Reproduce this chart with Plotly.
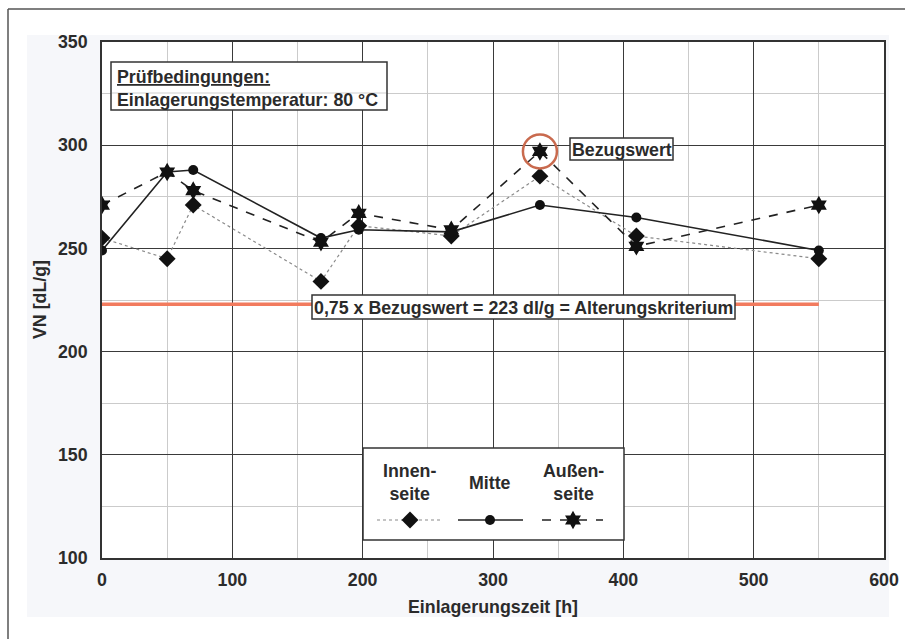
import plotly.graph_objects as go

# ---------------- data ----------------
zeit = [0, 50, 70, 168, 197, 268, 336, 410, 550]
innenseite = [255, 245, 271, 234, 261, 256, 285, 256, 245]
mitte = [249, 287, 288, 255, 259, 258, 271, 265, 249]
aussenseite = [271, 287, 278, 253, 267, 259, 297, 251, 271]
kriterium_zeit = [0, 550]
kriterium_wert = 223
bezug_index = 6

x_range = [0, 600]
y_range = [100, 350]

# ---------------- layout constants (pixels) ----------------
W, H = 905, 639
PL, PR, PT, PB = 102, 884, 42, 558
FONT = "Liberation Sans, Arial, sans-serif"
TXT = "#2b2b2b"
FS = 17.8


def fx(px):
    return px / W


def fy(py):
    return 1 - py / H


fig = go.Figure()

# criterion line
fig.add_trace(go.Scatter(x=kriterium_zeit, y=[kriterium_wert] * len(kriterium_zeit), mode="lines",
                         line=dict(color="#f27b5e", width=3.5), hoverinfo="skip"))
# series
fig.add_trace(go.Scatter(x=zeit, y=innenseite, mode="lines+markers", name="Innenseite",
                         line=dict(color="#8a8a8a", width=1.2, dash="dot"),
                         marker=dict(symbol="diamond", size=13, color="#111", line=dict(width=0))))
fig.add_trace(go.Scatter(x=zeit, y=mitte, mode="lines+markers", name="Mitte",
                         line=dict(color="#222", width=1.6),
                         marker=dict(symbol="circle", size=10, color="#111", line=dict(width=0))))
fig.add_trace(go.Scatter(x=zeit, y=aussenseite, mode="lines+markers", name="Außenseite",
                         line=dict(color="#222", width=1.6, dash="dash"),
                         marker=dict(symbol="hexagram", size=14, color="#111", line=dict(width=0))))

# legend keys (pixel overlay axes)
keys = [
    (377, 410, 442, dict(color="#8a8a8a", width=1.2, dash="dot"), "diamond", 13),
    (458, 490, 523, dict(color="#222", width=1.6), "circle", 10),
    (542, 573, 603, dict(color="#222", width=1.6, dash="dash"), "hexagram", 14),
]
for x0, xm, x1, ln, sym, sz in keys:
    fig.add_trace(go.Scatter(x=[x0, x1], y=[520, 520], xaxis="x2", yaxis="y2",
                             mode="lines", line=ln, hoverinfo="skip"))
    fig.add_trace(go.Scatter(x=[xm], y=[520], xaxis="x2", yaxis="y2", mode="markers",
                             marker=dict(symbol=sym, size=sz, color="#111", opacity=1,
                                         line=dict(width=0)),
                             hoverinfo="skip"))

shapes = []
# outer shaded area & frame (paper refs -> lowest layer)
shapes.append(dict(type="rect", xref="paper", yref="paper", x0=fx(27), x1=fx(889), y0=fy(617), y1=fy(35),
                   fillcolor="#f6f7fa", line=dict(width=0), layer="below"))
shapes.append(dict(type="rect", xref="paper", yref="paper", x0=fx(PL), x1=fx(PR), y0=fy(PB), y1=fy(PT),
                   fillcolor="#ffffff", line=dict(width=0), layer="below"))
shapes.append(dict(type="line", xref="paper", yref="paper", x0=fx(8), x1=fx(W + 5), y0=fy(9), y1=fy(9),
                   line=dict(color="#555", width=1.5), layer="below"))
shapes.append(dict(type="line", xref="paper", yref="paper", x0=fx(8), x1=fx(8), y0=fy(H + 5), y1=fy(9),
                   line=dict(color="#555", width=1.5), layer="below"))
# boxes drawn in overlay subplot (above main data, below legend keys)
box_line = dict(color="#333", width=1.5)
shapes.append(dict(type="rect", xref="x2", yref="y2", x0=111, x1=387, y0=62, y1=110,
                   fillcolor="white", line=box_line, layer="below"))
shapes.append(dict(type="line", xref="x2", yref="y2", x0=112, x1=386, y0=93, y1=93,
                   line=dict(color="#cfcfcf", width=1), layer="below"))
shapes.append(dict(type="rect", xref="x2", yref="y2", x0=570, x1=673, y0=138, y1=160,
                   fillcolor="white", line=box_line, layer="below"))
shapes.append(dict(type="rect", xref="x2", yref="y2", x0=312, x1=735, y0=295, y1=319,
                   fillcolor="white", line=box_line, layer="below"))
shapes.append(dict(type="rect", xref="x2", yref="y2", x0=363, x1=624, y0=448, y1=540,
                   fillcolor="white", line=box_line, layer="below"))
# circle around reference value
shapes.append(dict(type="circle", xref="x", yref="y", xsizemode="pixel", ysizemode="pixel",
                   xanchor=zeit[bezug_index], yanchor=aussenseite[bezug_index],
                   x0=-17, x1=17, y0=-17, y1=17,
                   line=dict(color="#c96a4e", width=2.5), layer="above"))


def ann(text, x, y, xanchor="center", yanchor="middle", angle=0, align="center"):
    return dict(text=text, x=x, y=y, xref="x2", yref="y2", xanchor=xanchor, yanchor=yanchor,
                showarrow=False, textangle=angle, align=align,
                font=dict(family=FONT, size=FS, color=TXT, weight="bold"))


annotations = [
    ann("<u>Prüfbedingungen:</u>", 115, 77, xanchor="left"),
    ann("Einlagerungstemperatur: 80 °C", 115, 100, xanchor="left"),
    ann("Bezugswert", 621.5, 149.5),
    ann("0,75 x Bezugswert = 223 dl/g = Alterungskriterium", 523.5, 307.5),
    ann("Innen-<br>seite", 409, 482),
    ann("Mitte", 490, 483),
    ann("Außen-<br>seite", 573, 482),
    ann("Einlagerungszeit [h]", 493, 607),
    ann("VN [dL/g]", 40, 300, angle=-90),
]

tickfont = dict(family=FONT, size=FS, color=TXT, weight="bold")
fig.update_layout(
    width=W, height=H, margin=dict(l=0, r=0, t=0, b=0),
    paper_bgcolor="white", plot_bgcolor="rgba(0,0,0,0)", showlegend=False,
    xaxis=dict(domain=[PL / W, PR / W], range=x_range, tick0=0, dtick=100,
               showgrid=True, gridcolor="#3a3a3a", gridwidth=1.3,
               minor=dict(tick0=0, dtick=50, showgrid=True, gridcolor="#cbcbcb", gridwidth=1),
               showline=True, mirror=True, linecolor="#333", linewidth=1.6,
               ticks="outside", ticklen=5, tickcolor="rgba(0,0,0,0)",
               tickfont=tickfont, zeroline=False, automargin=False, fixedrange=True),
    yaxis=dict(domain=[1 - PB / H, 1 - PT / H], range=y_range, tick0=100, dtick=50,
               showgrid=True, gridcolor="#3a3a3a", gridwidth=1.3,
               minor=dict(tick0=100, dtick=25, showgrid=True, gridcolor="#cbcbcb", gridwidth=1),
               showline=True, mirror=True, linecolor="#333", linewidth=1.6,
               ticks="outside", ticklen=9, tickcolor="rgba(0,0,0,0)",
               tickfont=tickfont, zeroline=False, automargin=False, fixedrange=True),
    xaxis2=dict(domain=[0, 1], range=[0, W], visible=False, anchor="y2", fixedrange=True),
    yaxis2=dict(domain=[0, 1], range=[H, 0], visible=False, anchor="x2", fixedrange=True),
    shapes=shapes,
    annotations=annotations,
)

fig.write_html("out.html", config={"displayModeBar": False},
               post_script="document.body.style.margin='0px';document.body.style.padding='0px';")
